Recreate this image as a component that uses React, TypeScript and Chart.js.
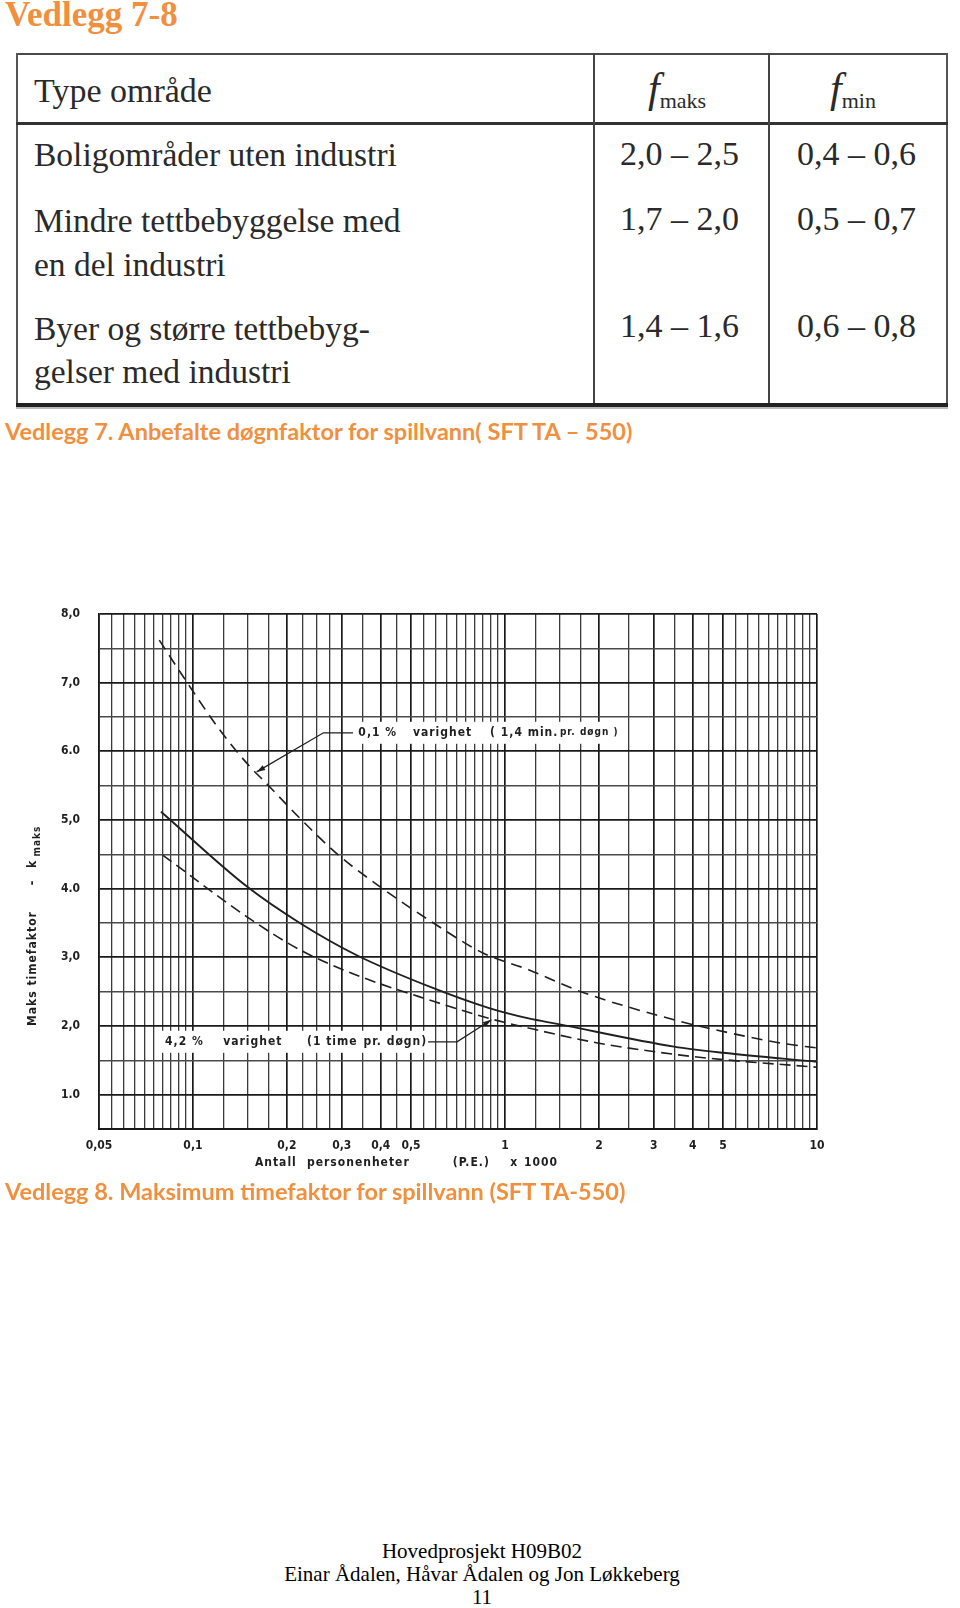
import React, { useEffect, useRef } from "react";
import { Chart, registerables } from "chart.js";

Chart.register(...registerables);

const ORANGE = "#F0903F";
const INK = "#1f1f1f";
const CHART_FONT = '"DejaVu Sans Condensed", "DejaVu Sans", sans-serif';

// ---------- Vedlegg 7 : table ----------
const headArea = "Type område";
const headSubs = ["maks", "min"];
const areaLines: string[][] = [
  ["Boligområder uten industri"],
  ["Mindre tettbebyggelse med", "en del industri"],
  ["Byer og større tettbebyg-", "gelser med industri"],
];
const fMaks = ["2,0 – 2,5", "1,7 – 2,0", "1,4 – 1,6"];
const fMin = ["0,4 – 0,6", "0,5 – 0,7", "0,6 – 0,8"];

// ---------- Vedlegg 8 : chart (x = P.E. x 1000) ----------
// 0,1 % varighet (dashed, upper)
const curve01X = [0.078, 0.093, 0.122, 0.152, 0.168, 0.223, 0.289, 0.397, 0.59, 0.853, 1.19, 1.75, 3.48, 4.57, 7.68, 10];
const curve01Y = [7.62, 7.09, 6.31, 5.78, 5.58, 5.0, 4.51, 4.03, 3.5, 3.06, 2.82, 2.5, 2.09, 1.96, 1.75, 1.68];
// solid curve
const curveSolidX = [0.079, 0.149, 0.22, 0.335, 0.59, 0.89, 1.19, 1.47, 3.48, 5, 10];
const curveSolidY = [5.12, 4.03, 3.5, 3.03, 2.55, 2.26, 2.11, 2.03, 1.7, 1.61, 1.48];
// 4,2 % varighet (dashed, lower)
const curve42X = [0.08, 0.149, 0.22, 0.335, 0.59, 0.89, 1.19, 2.0, 3.6, 5, 10];
const curve42Y = [4.49, 3.59, 3.11, 2.74, 2.36, 2.11, 1.97, 1.75, 1.58, 1.51, 1.4];

// grid values (log paper)
const xGridValues = [
  0.05, 0.055, 0.06, 0.065, 0.07, 0.075, 0.08, 0.085, 0.09, 0.095,
  0.1, 0.125, 0.15, 0.175, 0.2, 0.225, 0.25, 0.275, 0.3, 0.35, 0.4, 0.45,
  0.5, 0.55, 0.6, 0.65, 0.7, 0.75, 0.8, 0.85, 0.9, 0.95,
  1, 1.25, 1.5, 1.75, 2, 2.5, 3, 3.5, 4, 4.5,
  5, 5.5, 6, 6.5, 7, 7.5, 8, 8.5, 9, 9.5, 10,
];
const xLabelValues = [0.05, 0.1, 0.2, 0.3, 0.4, 0.5, 1, 2, 3, 4, 5, 10];
const xLabelTexts = ["0,05", "0,1", "0,2", "0,3", "0,4", "0,5", "1", "2", "3", "4", "5", "10"];
const yGridValues = [0.5, 1, 1.5, 2, 2.5, 3, 3.5, 4, 4.5, 5, 5.5, 6, 6.5, 7, 7.5, 8];
const yLabelValues = [1, 2, 3, 4, 5, 6, 7, 8];
const yLabelTexts = ["1.0", "2,0", "3,0", "4.0", "5,0", "6.0", "7,0", "8,0"];

// axis titles
const xTitleParts = ["Antall", "personenheter", "(P.E.)", "x", "1000"];
const xTitleAt = [0.158, 0.232, 0.68, 1.04, 1.15];
const yTitleParts = ["Maks timefaktor", "-", "k"];
const yTitleAt = [2.0, 4.05, 4.3];
const yTitleSub = "maks";
const yTitleSubAt = 4.47;

// annotations
const note01Parts = ["0,1 %", "varighet", "( 1,4 min.", "pr. døgn )"];
const note01At = [0.339, 0.507, 0.896, 1.5];
const note01Y = 6.27;
const note01Leader = [[0.326, 6.27], [0.262, 6.27], [0.16, 5.7]];
const note42Parts = ["4,2 %", "varighet", "(1 time", "pr. døgn)"];
const note42At = [0.0814, 0.125, 0.232, 0.352];
const note42Y = 1.77;
const note42Leader = [[0.567, 1.77], [0.702, 1.77], [0.905, 2.09]];

const near = (a: number, b: number) => Math.abs(a - b) < 1e-9;
const xLabelFor = (v: number) => {
  const i = xLabelValues.findIndex((l) => near(l, v));
  return i >= 0 ? xLabelTexts[i] : "";
};
const yLabelFor = (v: number) => {
  const i = yLabelValues.findIndex((l) => near(l, v));
  return i >= 0 ? yLabelTexts[i] : "";
};

const pageTextPlugin = {
  id: "pageTexts",
  afterDraw(chart: any) {
    const { ctx, chartArea } = chart;
    const xs = chart.scales.x;
    const ys = chart.scales.y;
    ctx.save();
    ctx.fillStyle = INK;
    ctx.strokeStyle = INK;
    ctx.textBaseline = "middle";
    ctx.textAlign = "left";
    (ctx as any).letterSpacing = "1px";

    const mainFont = `bold 12px ${CHART_FONT}`;
    const smallFont = `bold 10px ${CHART_FONT}`;

    // annotations
    const drawNote = (parts: string[], at: number[], yv: number, leader: number[][], smallLast: boolean) => {
      const py = ys.getPixelForValue(yv);
      const x0 = xs.getPixelForValue(at[0]);
      const lastFont = smallLast ? smallFont : mainFont;
      ctx.font = lastFont;
      const lastW = ctx.measureText(parts[parts.length - 1]).width;
      const x1 = xs.getPixelForValue(at[at.length - 1]) + lastW;
      ctx.fillStyle = "#ffffff";
      ctx.fillRect(x0 - 4, py - 11, x1 - x0 + 8, 22);
      ctx.fillStyle = INK;
      parts.forEach((p, i) => {
        ctx.font = i === parts.length - 1 ? lastFont : mainFont;
        ctx.fillText(p, xs.getPixelForValue(at[i]), py);
      });
      // leader with arrow
      ctx.lineWidth = 1.3;
      ctx.beginPath();
      leader.forEach(([lx, ly], i) => {
        const px = xs.getPixelForValue(lx);
        const pyy = ys.getPixelForValue(ly);
        if (i === 0) ctx.moveTo(px, pyy);
        else ctx.lineTo(px, pyy);
      });
      ctx.stroke();
      const a = leader[leader.length - 2];
      const b = leader[leader.length - 1];
      const ax = xs.getPixelForValue(a[0]);
      const ay = ys.getPixelForValue(a[1]);
      const bx = xs.getPixelForValue(b[0]);
      const by = ys.getPixelForValue(b[1]);
      const ang = Math.atan2(by - ay, bx - ax);
      ctx.beginPath();
      ctx.moveTo(bx, by);
      ctx.lineTo(bx - 9 * Math.cos(ang - 0.3), by - 9 * Math.sin(ang - 0.3));
      ctx.lineTo(bx - 9 * Math.cos(ang + 0.3), by - 9 * Math.sin(ang + 0.3));
      ctx.closePath();
      ctx.fill();
    };
    drawNote(note01Parts, note01At, note01Y, note01Leader, true);
    drawNote(note42Parts, note42At, note42Y, note42Leader, false);

    // x title
    ctx.font = mainFont;
    const ty = chartArea.bottom + 34;
    xTitleParts.forEach((p, i) => ctx.fillText(p, xs.getPixelForValue(xTitleAt[i]), ty));

    // y title (rotated)
    const tx = chartArea.left - 66;
    const drawRot = (text: string, yv: number, font: string, dx: number) => {
      ctx.save();
      ctx.translate(tx + dx, ys.getPixelForValue(yv));
      ctx.rotate(-Math.PI / 2);
      ctx.font = font;
      ctx.fillText(text, 0, 0);
      ctx.restore();
    };
    yTitleParts.forEach((p, i) => drawRot(p, yTitleAt[i], mainFont, 0));
    drawRot(yTitleSub, yTitleSubAt, smallFont, 4);
    ctx.restore();
  },
};

function ChartBlock() {
  const ref = useRef<HTMLCanvasElement>(null);
  useEffect(() => {
    if (!ref.current) return;
    const mk = (xsv: number[], ysv: number[]) => xsv.map((x, i) => ({ x, y: ysv[i] }));
    const chart = new Chart(ref.current, {
      type: "line",
      data: {
        datasets: [
          {
            label: "0,1 % varighet",
            data: mk(curve01X, curve01Y),
            borderColor: INK,
            borderWidth: 1.6,
            borderDash: [11, 7],
            pointRadius: 0,
            cubicInterpolationMode: "monotone",
            fill: false,
          },
          {
            label: "k maks",
            data: mk(curveSolidX, curveSolidY),
            borderColor: INK,
            borderWidth: 1.9,
            pointRadius: 0,
            cubicInterpolationMode: "monotone",
            fill: false,
          },
          {
            label: "4,2 % varighet",
            data: mk(curve42X, curve42Y),
            borderColor: INK,
            borderWidth: 1.6,
            borderDash: [11, 6],
            pointRadius: 0,
            cubicInterpolationMode: "monotone",
            fill: false,
          },
        ],
      },
      options: {
        animation: false,
        responsive: false,
        events: [],
        layout: { padding: { left: 0, right: 143, top: 34, bottom: 0 } },
        plugins: { legend: { display: false }, tooltip: { enabled: false } },
        scales: {
          x: {
            type: "logarithmic",
            min: 0.05,
            max: 10,
            afterBuildTicks: (axis: any) => {
              axis.ticks = xGridValues.map((v) => ({ value: v }));
            },
            afterFit: (axis: any) => {
              axis.height = 51;
            },
            ticks: {
              autoSkip: false,
              maxRotation: 0,
              minRotation: 0,
              padding: 10,
              color: INK,
              font: { family: CHART_FONT, size: 12, weight: "bold" },
              callback: (v: any) => xLabelFor(Number(v)),
            },
            grid: {
              drawTicks: false,
              color: (c: any) => (xLabelValues.some((l) => near(l, c.tick?.value)) ? "#1a1a1a" : "#3a3a3a"),
              lineWidth: (c: any) => (xLabelValues.some((l) => near(l, c.tick?.value)) ? 1.7 : 1.3),
            },
            border: { display: true, color: "#1a1a1a", width: 2 },
          },
          y: {
            type: "linear",
            min: 0.5,
            max: 8,
            afterBuildTicks: (axis: any) => {
              axis.ticks = yGridValues.map((v) => ({ value: v }));
            },
            afterFit: (axis: any) => {
              axis.width = 99;
            },
            ticks: {
              autoSkip: false,
              padding: 19,
              color: INK,
              font: { family: CHART_FONT, size: 12, weight: "bold" },
              callback: (v: any) => yLabelFor(Number(v)),
            },
            grid: {
              drawTicks: false,
              color: (c: any) => (Number.isInteger(c.tick?.value) ? "#1a1a1a" : "#4a4a4a"),
              lineWidth: (c: any) => (Number.isInteger(c.tick?.value) ? 1.7 : 1.4),
            },
            border: { display: true, color: "#1a1a1a", width: 1.6 },
          },
        },
      } as any,
      plugins: [pageTextPlugin],
    });
    return () => chart.destroy();
  }, []);
  return (
    <canvas
      ref={ref}
      width={960}
      height={600}
      style={{ position: "absolute", left: 0, top: 580, width: 960, height: 600 }}
    />
  );
}

const serif = '"Liberation Serif", "Times New Roman", serif';
const calib = 'Lato, "Open Sans", sans-serif';

function Txt(props: { x: number; cy: number; size: number; children: any; style?: any }) {
  const lh = Math.round(props.size * 1.2);
  return (
    <div
      style={{
        position: "absolute",
        left: props.x,
        top: props.cy - lh / 2,
        lineHeight: lh + "px",
        fontSize: props.size,
        whiteSpace: "nowrap",
        ...props.style,
      }}
    >
      {props.children}
    </div>
  );
}

function Line(props: { x: number; y: number; w: number; h: number; c?: string }) {
  return (
    <div
      style={{
        position: "absolute",
        left: props.x,
        top: props.y,
        width: props.w,
        height: props.h,
        background: props.c || "#333",
      }}
    />
  );
}

export default function App() {
  const tableFont = { fontFamily: serif, color: "#2a2a2a" };
  const areaY = [[155], [221, 265], [329, 372]];
  const valY = [153, 218, 325];
  return (
    <div
      style={{
        position: "absolute",
        left: 0,
        top: 0,
        width: 960,
        height: 1608,
        background: "#fff",
        overflow: "hidden",
      }}
    >
      <Txt x={5} cy={15} size={35} style={{ fontFamily: serif, fontWeight: "bold", color: ORANGE }}>
        Vedlegg 7-8
      </Txt>

      {/* table frame */}
      <Line x={16} y={53} w={932} h={2} c="#4a4a4a" />
      <Line x={16} y={53} w={2} h={354} c="#555" />
      <Line x={946} y={53} w={2} h={354} c="#555" />
      <Line x={16} y={122} w={932} h={3} c="#333" />
      <Line x={593} y={53} w={2} h={354} c="#444" />
      <Line x={768} y={53} w={2} h={354} c="#444" />
      <Line x={16} y={403} w={932} h={4} c="#222" />
      <Line x={16} y={407} w={932} h={2} c="#bbb" />

      <Txt x={34} cy={90} size={34} style={tableFont}>
        {headArea}
      </Txt>
      <Txt x={648} cy={88} size={34} style={tableFont}>
        <span style={{ fontStyle: "italic", fontSize: 42 }}>f</span>
        <span style={{ fontSize: 22, position: "relative", top: 6 }}>{headSubs[0]}</span>
      </Txt>
      <Txt x={830} cy={88} size={34} style={tableFont}>
        <span style={{ fontStyle: "italic", fontSize: 42 }}>f</span>
        <span style={{ fontSize: 22, position: "relative", top: 6 }}>{headSubs[1]}</span>
      </Txt>
      {areaLines.map((lines, r) =>
        lines.map((t, k) => (
          <Txt key={r + "-" + k} x={34} cy={areaY[r][k]} size={33.5} style={tableFont}>
            {t}
          </Txt>
        ))
      )}
      {fMaks.map((t, r) => (
        <Txt key={"mx" + r} x={620} cy={valY[r]} size={34} style={tableFont}>
          {t}
        </Txt>
      ))}
      {fMin.map((t, r) => (
        <Txt key={"mn" + r} x={797} cy={valY[r]} size={34} style={tableFont}>
          {t}
        </Txt>
      ))}

      <Txt x={5} cy={431} size={23.5} style={{ fontFamily: calib, fontWeight: "bold", color: ORANGE }}>
        Vedlegg 7. Anbefalte døgnfaktor for spillvann( SFT TA – 550)
      </Txt>

      <ChartBlock />

      <Txt x={5} cy={1191} size={23.5} style={{ fontFamily: calib, fontWeight: "bold", color: ORANGE }}>
        Vedlegg 8. Maksimum timefaktor for spillvann (SFT TA-550)
      </Txt>

      <div
        style={{
          position: "absolute",
          left: 0,
          width: 964,
          top: 1540,
          textAlign: "center",
          fontFamily: serif,
          fontSize: 21,
          lineHeight: "23px",
          color: "#000",
        }}
      >
        <div>Hovedprosjekt H09B02</div>
        <div>Einar Ådalen, Håvar Ådalen og Jon Løkkeberg</div>
        <div>11</div>
      </div>
    </div>
  );
}
